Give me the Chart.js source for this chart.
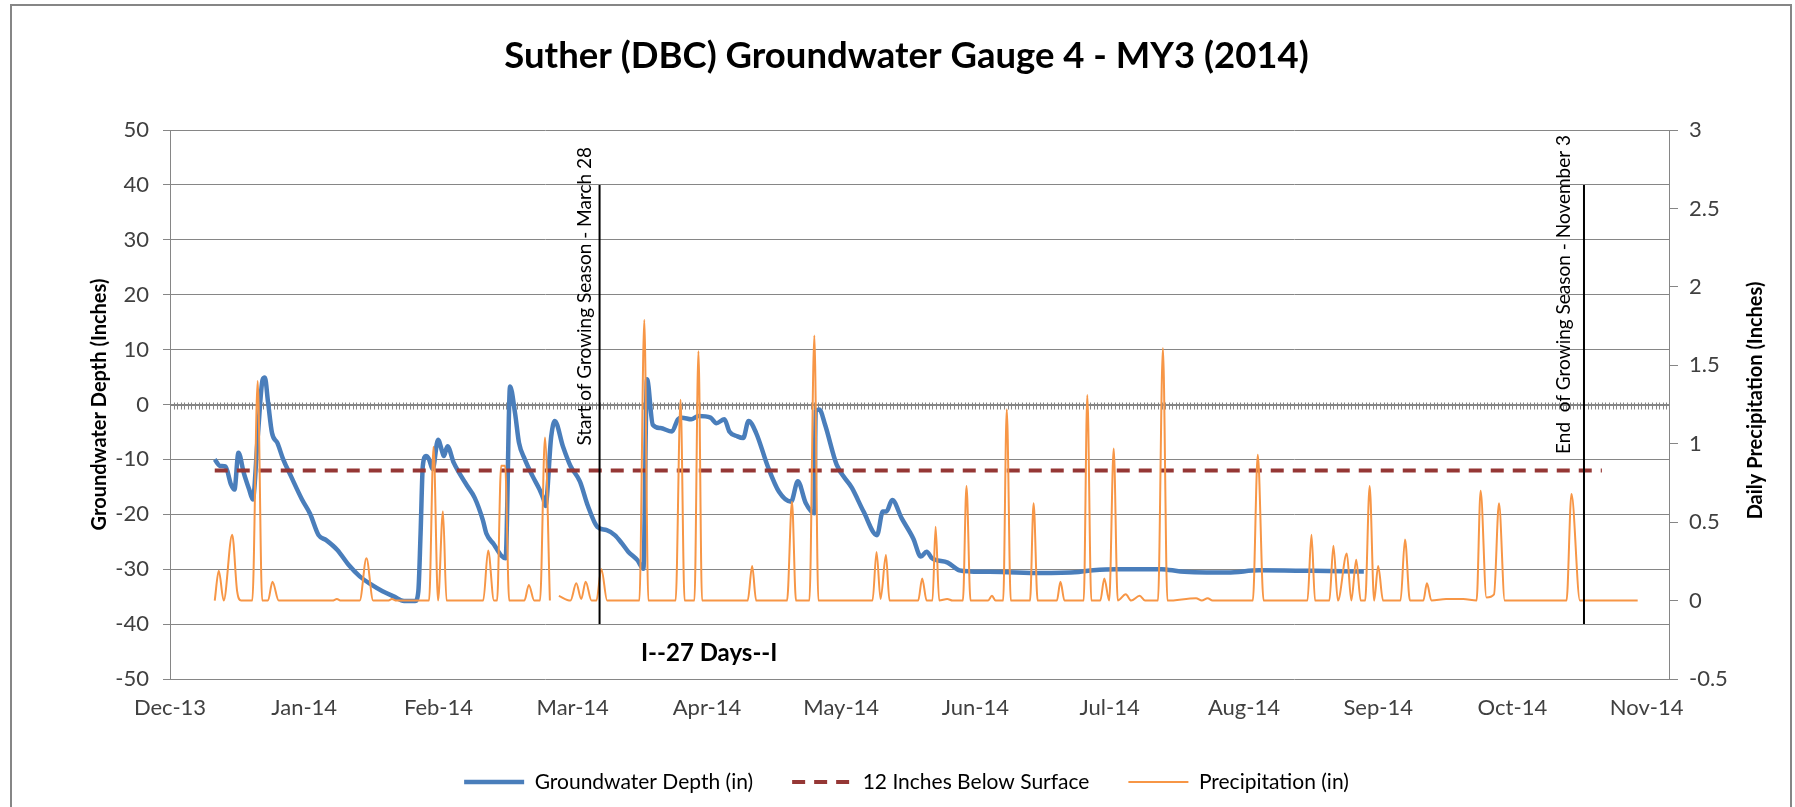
<!DOCTYPE html>
<html>
<head>
<meta charset="utf-8">
<title>Suther (DBC) Groundwater Gauge 4 - MY3 (2014)</title>
<script src="https://cdn.jsdelivr.net/npm/chart.js@4.4.1/dist/chart.umd.min.js"></script>
<style>
  html, body { margin: 0; padding: 0; background: #fff; }
  canvas { display: block; }
</style>
</head>
<body>
<canvas id="gauge-chart" width="1795" height="807"></canvas>
<script>
// Day numbers count from 1 Jan 2014 (day -10 = 22 Dec 2013).

// horizontal axis: one label every 30 days
const xTickDays = [-10, 20, 50, 80, 110, 140, 170, 200, 230, 260, 290, 320];
const xTickLabels = ["Dec-13", "Jan-14", "Feb-14", "Mar-14", "Apr-14", "May-14",
  "Jun-14", "Jul-14", "Aug-14", "Sep-14", "Oct-14", "Nov-14"];

// groundwater depth below surface (inches)
const gwDay = [
  0, 1.2, 2.4, 3.6, 4.4, 5.3, 6.5, 7.7, 8.5, 9.6, 10.7, 11.2, 11.9, 12.8, 14.0,
  15.3, 17.0, 19.5, 21.3, 23.2, 24.9, 27.4, 29.9, 32.4, 35.0, 37.5, 40.1, 42.3,
  44.8, 45.5, 46.0, 46.5, 47.2, 47.9, 48.7, 49.9, 50.8, 51.2, 52.0, 53.4, 54.6,
  56.4, 58.1, 59.9, 60.7, 62.4, 64.0, 65.0, 66.0, 67.1, 68.0, 69.3, 71.0, 72.6,
  73.5, 73.9, 75.2, 76.0, 77.8, 79.5, 81.6, 83.4, 85.5, 87.6, 89.4, 91.0, 92.4,
  94.5, 95.8, 96.6, 97.9, 99.6, 102.2, 103.5, 104.4, 106.5, 108.1, 110.8, 112.1,
  113.9, 115.0, 116.8, 118.1, 119.3, 121.0, 123.6, 126.1, 128.8, 130.3, 132.1,
  134.0, 134.3, 135.1, 136.4, 139.0, 142.4, 145.0, 148.0, 149.3, 150.1, 151.4,
  153.5, 156.1, 157.8, 159.1, 160.3, 163.8, 166.4, 168.9, 175.8, 184.5, 193.1,
  196.3, 201.4, 211.6, 215.8, 226.4, 233.4, 245.5, 256.8
];
const gwDepth = [
  -10.0, -11.2, -11.3, -14.5, -15.5, -8.8, -12.5, -15.5, -17.3, -6.0, 4.5, 4.9, 0.5, -5.2, -7.0,
  -10.0, -13.0, -17.3, -19.9, -23.8, -24.7, -26.5, -29.2, -31.3, -32.8, -34.0, -35.0, -35.8,
  -35.8, -34.0, -23.5, -11.2, -9.4, -10.0, -11.8, -6.4, -8.5, -9.4, -7.6, -10.6, -12.4,
  -14.8, -17.0, -21.0, -23.5, -25.5, -27.5, -28.0, 3.3, -1.5, -7.0, -10.0, -13.0, -15.5,
  -17.3, -18.5, -5.8, -3.0, -7.6, -11.2, -14.0, -18.5, -22.3, -22.9, -23.8, -25.3, -26.8,
  -28.4, -29.9, 4.6, -3.7, -4.3, -4.9, -2.7, -2.4, -2.7, -2.1, -2.4, -3.4,
  -2.7, -4.9, -5.8, -6.1, -3.0, -5.2, -11.3, -15.9, -17.7, -14.0, -18.0,
  -19.8, -1.2, -0.9, -3.7, -11.0, -15.2, -19.5, -23.8, -19.5, -19.5, -17.4,
  -20.7, -24.4, -27.7, -26.8, -28.0, -28.8, -30.2, -30.4, -30.5, -30.7, -30.5,
  -30.2, -30.0, -30.0, -30.4, -30.6, -30.2, -30.3, -30.4
];

// reference level, 12 inches below the surface
const targetDay = [0, 310];
const targetDepth = [-12, -12];

// daily precipitation (inches); null marks missing record
const rainDay = [
  0, 0.9, 2.0, 3.9, 5.0, 5.9, 8.4, 9.6, 10.6, 11.9, 12.9, 14.3,
  26.3, 27.3, 28.2, 32.4, 33.9, 35.4, 38.7, 39.6, 40.6,
  47.9, 48.9, 49.9, 51.0, 51.8,
  60.0, 61.1, 62.4, 63.1, 64.0, 64.9, 65.8,
  69.2, 70.2, 71.4, 72.7, 73.8, 74.9, 75.8,
  76.9, 79.5, 80.8, 81.9, 82.9, 84.2, 85.3, 86.4, 87.7,
  94.9, 96.0, 96.9, 103.0, 104.1, 105.0, 107.2, 108.1, 108.9,
  119.1, 120.1, 121.0, 127.9, 129.0, 129.9, 132.9, 134.0, 134.9,
  147.0, 147.9, 148.8, 150.0, 150.8,
  157.2, 158.1, 159.1, 160.4, 161.1, 161.9, 163.7, 164.9,
  167.2, 168.0, 168.9, 172.8, 173.7, 174.5, 176.2, 177.0, 177.9,
  182.2, 183.0, 183.9, 188.2, 189.0, 189.9, 194.2, 195.0, 195.9,
  197.9, 198.8, 199.9, 200.9, 201.8, 203.6, 204.8, 206.7, 207.9,
  210.8, 211.9, 212.9,
  219.3, 220.6, 221.9, 223.0,
  232.0, 233.1, 234.4,
  244.2, 245.1, 245.9,
  249.1, 250.0, 251.0, 253.0, 254.0, 255.1, 256.1, 257.1, 258.1, 259.1, 260.0, 261.1,
  265.0, 266.0, 267.1,
  270.1, 270.9, 271.9,
  275.2, 279.0,
  282.0, 282.9, 284.2, 285.9, 287.0, 288.3,
  302.1, 303.2, 305.1,
  318.0
];
const rainIn = [
  0, 0.19, 0, 0.42, 0.06, 0, 0, 1.40, 0, 0, 0.12, 0,
  0, 0.01, 0, 0, 0.27, 0, 0, 0.01, 0,
  0, 0.98, 0, 0.57, 0,
  0, 0.32, 0, 0, 0.86, 0.86, 0,
  0, 0.10, 0, 0, 1.04, 0, null,
  0.03, 0, 0.11, 0.01, 0.12, 0, 0, 0.20, 0,
  0, 1.79, 0, 0, 1.28, 0, 0, 1.59, 0,
  0, 0.22, 0, 0, 0.63, 0, 0, 1.69, 0,
  0, 0.31, 0.01, 0.29, 0,
  0, 0.14, 0, 0, 0.47, 0, 0.01, 0,
  0, 0.73, 0, 0, 0.03, 0, 0, 1.22, 0,
  0, 0.62, 0, 0, 0.12, 0, 0, 1.31, 0,
  0, 0.14, 0, 0.97, 0, 0.04, 0, 0.03, 0,
  0, 1.61, 0,
  0.015, 0, 0.015, 0,
  0, 0.93, 0,
  0, 0.42, 0,
  0, 0.35, 0, 0.30, 0, 0.26, 0, 0, 0.73, 0, 0.22, 0,
  0, 0.39, 0,
  0, 0.11, 0,
  0.01, 0.01,
  0, 0.70, 0.02, 0.04, 0.62, 0,
  0, 0.68, 0,
  0
];

// growing season: 28 March and 3 November
const seasonDay = [86, 306];
const seasonText = ["Start of Growing Season - March 28", "End  of Growing Season - November 3"];
const spanText = "I--27 Days--I";

const FONT = "Lato";
const gridColor = "#868686";
const tickColor = "#404040";

function toPoints(xs, ys) {
  return xs.map((x, i) => ({ x: x, y: ys[i] }));
}

function seasonLine(day) {
  return {
    label: "season",
    data: [{ x: day, y: 40 }, { x: day, y: -40 }],
    yAxisID: "y",
    borderColor: "#000",
    borderWidth: 2,
    tension: 0,
    order: 0,
  };
}

// legend entries: a short sample of each series' line
function legendItems(chart) {
  return chart.data.datasets.slice(0, 3).map((ds, i) => ({
    text: ds.label,
    datasetIndex: i,
    hidden: false,
    pointStyle: "line",
    fillStyle: ds.borderColor,
    strokeStyle: ds.borderColor,
    lineWidth: ds.borderWidth,
    lineDash: ds.borderDash || [],
    lineCap: "butt",
  }));
}

const chartExtras = {
  id: "chartExtras",
  beforeDraw(chart) {
    const ctx = chart.ctx;
    ctx.save();
    ctx.fillStyle = "#fff";
    ctx.fillRect(0, 0, chart.width, chart.height);
    ctx.restore();
  },
  beforeDatasetsDraw(chart) {
    // horizontal axis crosses the depth axis at 0, with minor ticks
    const { ctx, chartArea, scales } = chart;
    const y0 = Math.round(scales.y.getPixelForValue(0)) + 0.5;
    ctx.save();
    ctx.strokeStyle = gridColor;
    ctx.lineWidth = 1;
    ctx.beginPath();
    ctx.moveTo(chartArea.left, y0);
    ctx.lineTo(chartArea.right, y0);
    for (let d = scales.x.min; d <= scales.x.max; d += 0.8) {
      const x = Math.round(scales.x.getPixelForValue(d)) + 0.5;
      ctx.moveTo(x, y0 - 3);
      ctx.lineTo(x, y0 + 4);
    }
    ctx.stroke();
    ctx.restore();
  },
  afterDatasetsDraw(chart) {
    const { ctx, scales } = chart;
    ctx.save();
    ctx.fillStyle = "#000";
    ctx.textBaseline = "middle";

    // season captions, rotated, ending at the top of each line
    ctx.font = "19px " + FONT;
    ctx.textAlign = "right";
    const capOffset = [15, 20];
    const capTop = [46.9, 49.1];
    seasonDay.forEach((day, i) => {
      const x = scales.x.getPixelForValue(day) - capOffset[i];
      const y = scales.y.getPixelForValue(capTop[i]);
      ctx.save();
      ctx.translate(x, y);
      ctx.rotate(-Math.PI / 2);
      ctx.fillText(seasonText[i], 0, 0);
      ctx.restore();
    });

    ctx.font = "bold 24px " + FONT;
    ctx.textAlign = "center";
    ctx.fillText(spanText, scales.x.getPixelForValue(110.5), scales.y.getPixelForValue(-45.3));
    ctx.restore();
  },
  afterDraw(chart) {
    const { ctx, chartArea } = chart;
    ctx.save();
    // right axis title reads bottom to top
    ctx.font = "bold 20px " + FONT;
    ctx.fillStyle = "#000";
    ctx.textAlign = "center";
    ctx.textBaseline = "middle";
    ctx.translate(1756, (chartArea.top + chartArea.bottom) / 2 - 4);
    ctx.rotate(-Math.PI / 2);
    ctx.fillText("Daily Precipitation (Inches)", 0, 0);
    ctx.restore();

    // outer chart frame
    ctx.save();
    ctx.strokeStyle = gridColor;
    ctx.lineWidth = 2;
    ctx.strokeRect(11, 5, 1780, 820);
    ctx.restore();
  },
};

const chart = new Chart(document.getElementById("gauge-chart"), {
  type: "line",
  data: {
    datasets: [
      {
        label: "Groundwater Depth (in)",
        data: toPoints(gwDay, gwDepth),
        yAxisID: "y",
        borderColor: "#4A7EBB",
        borderWidth: 4.5,
        cubicInterpolationMode: "monotone",
        order: 3,
      },
      {
        label: "12 Inches Below Surface",
        data: toPoints(targetDay, targetDepth),
        yAxisID: "y",
        borderColor: "#953735",
        borderWidth: 4,
        borderDash: [13, 9],
        tension: 0,
        order: 2,
      },
      {
        label: "Precipitation (in)",
        data: toPoints(rainDay, rainIn),
        yAxisID: "y2",
        borderColor: "#F79646",
        borderWidth: 2,
        cubicInterpolationMode: "monotone",
        order: 1,
      },
      seasonLine(seasonDay[0]),
      seasonLine(seasonDay[1]),
    ],
  },
  options: {
    responsive: false,
    animation: false,
    layout: { padding: { left: 18, right: 0, top: 0, bottom: 4.5 } },
    elements: { point: { radius: 0, hoverRadius: 0 } },
    plugins: {
      title: {
        display: true,
        text: "Suther (DBC) Groundwater Gauge 4 - MY3 (2014)",
        color: "#000",
        font: { family: FONT, size: 36.5, weight: "bold" },
        padding: { top: 34.6, bottom: 51.6 },
      },
      legend: {
        position: "bottom",
        labels: {
          generateLabels: legendItems,
          usePointStyle: true,
          pointStyleWidth: 60,
          padding: 39,
          color: tickColor,
          font: { family: FONT, size: 21 },
        },
      },
      tooltip: { enabled: false },
    },
    scales: {
      x: {
        type: "linear",
        min: -10,
        max: 325,
        afterBuildTicks: (scale) => {
          scale.ticks = xTickDays.map((v) => ({ value: v }));
        },
        afterFit: (scale) => {
          scale.height = 53.5;
        },
        ticks: {
          autoSkip: false,
          maxRotation: 0,
          padding: 16,
          color: tickColor,
          font: { family: FONT, size: 22 },
          callback: (value) => xTickLabels[xTickDays.indexOf(value)],
        },
        grid: { display: false, drawTicks: false },
        border: { display: false },
      },
      y: {
        position: "left",
        min: -50,
        max: 50,
        afterFit: (scale) => {
          scale.width = 152;
        },
        ticks: {
          stepSize: 10,
          padding: 14,
          color: tickColor,
          font: { family: FONT, size: 22 },
        },
        grid: { color: gridColor, lineWidth: 1, tickLength: 7 },
        border: { color: gridColor, width: 1 },
        title: {
          display: true,
          text: "Groundwater Depth (Inches)",
          color: "#000",
          font: { family: FONT, size: 20, weight: "bold" },
          padding: { top: 69.5, bottom: 0 },
        },
      },
      y2: {
        position: "right",
        min: -0.5,
        max: 3,
        afterFit: (scale) => {
          scale.width = 126;
        },
        ticks: {
          stepSize: 0.5,
          padding: 11,
          color: tickColor,
          font: { family: FONT, size: 22 },
          callback: (value) => String(value),
        },
        grid: { drawOnChartArea: false, color: gridColor, tickLength: 9 },
        border: { color: gridColor, width: 1 },
      },
    },
  },
  plugins: [chartExtras],
});
</script>
</body>
</html>
